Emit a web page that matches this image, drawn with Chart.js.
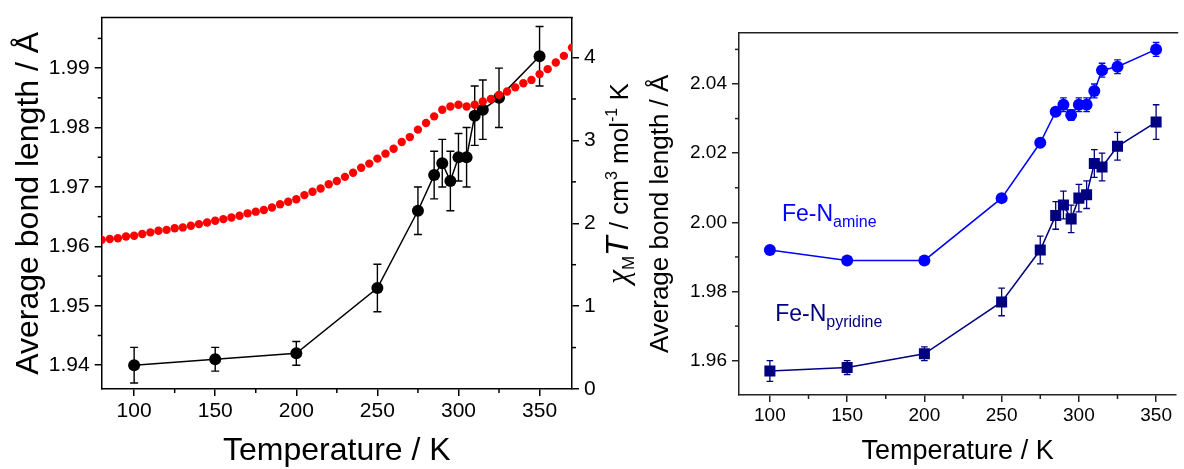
<!DOCTYPE html>
<html>
<head>
<meta charset="utf-8">
<script src="https://cdn.jsdelivr.net/npm/chart.js@4.4.1/dist/chart.umd.min.js"></script>
<style>
  html, body { margin:0; padding:0; background:#fff; overflow:hidden; }
  canvas { position:absolute; top:0; }
</style>
</head>
<body>
<canvas id="c2" width="544" height="469" style="left:640px"></canvas>
<canvas id="c1" width="650" height="469" style="left:0px"></canvas>
<script>
// ---------------- DATA ----------------
// Left panel: average bond length vs temperature (black) and chi_M T (red)
const leftTemps = [100,150,200,250,275,285,290,295,300,305,310,315,325,350];
const leftBond = [1.940,1.941,1.942,1.953,1.966,1.972,1.974,1.971,1.975,1.975,1.982,1.983,1.985,1.992];
const leftBondErr = [0.003,0.002,0.002,0.004,0.004,0.004,0.004,0.005,0.004,0.005,0.005,0.005,0.005,0.005];

const chiTemps = [80,85,90,95,100,105,110,115,120,125,130,135,140,145,150,155,160,165,170,175,
  180,185,190,195,200,205,210,215,220,225,230,235,240,245,250,255,260,265,270,275,
  280,285,290,295,300,305,310,315,320,325,330,335,340,345,350,355,360,365,370];
const chiT = [1.80,1.81,1.82,1.84,1.85,1.87,1.89,1.91,1.92,1.94,1.95,1.97,1.99,2.01,2.03,2.05,2.07,2.09,2.12,2.14,
  2.16,2.19,2.23,2.26,2.29,2.34,2.38,2.42,2.47,2.51,2.56,2.61,2.67,2.72,2.78,2.84,2.90,2.98,3.04,3.13,
  3.21,3.29,3.37,3.41,3.43,3.41,3.43,3.47,3.50,3.55,3.59,3.64,3.69,3.73,3.80,3.86,3.94,4.02,4.12];

// Right panel: Fe-N(amine) and Fe-N(pyridine)
const rightTemps = [100,150,200,250,275,285,290,295,300,305,310,315,325,350];
const amine = [1.992,1.989,1.989,2.007,2.023,2.032,2.034,2.031,2.034,2.034,2.038,2.044,2.045,2.050];
const amineErr = [0.001,0.001,0.001,0.001,0.001,0.001,0.002,0.0015,0.002,0.002,0.002,0.002,0.002,0.002];
const pyridine = [1.957,1.958,1.962,1.977,1.992,2.002,2.005,2.001,2.007,2.008,2.017,2.016,2.022,2.029];
const pyridineErr = [0.003,0.002,0.002,0.004,0.004,0.004,0.004,0.004,0.004,0.004,0.004,0.004,0.004,0.005];

// Tick values
const leftXTicks = [100,150,200,250,300,350];
const leftXMinor = [125,175,225,275,325];
const leftYTicks = [1.94,1.95,1.96,1.97,1.98,1.99];
const leftYMinor = [1.945,1.955,1.965,1.975,1.985,1.995];
const leftY2Ticks = [0,1,2,3,4];
const leftY2Minor = [0.5,1.5,2.5,3.5];
const rightXTicks = [100,150,200,250,300,350];
const rightXMinor = [125,175,225,275,325];
const rightYTicks = [1.96,1.98,2.00,2.02,2.04];
const rightYMinor = [1.97,1.99,2.01,2.03,2.05];

// Text
const xTitle = 'Temperature / K';
const yTitle = 'Average bond length / Å';
const labelAmine = ['Fe-N', 'amine'];
const labelPyridine = ['Fe-N', 'pyridine'];

// ---------------- HELPERS ----------------
const FONT = '"Liberation Sans", Arial, Helvetica, sans-serif';
const pts = (xs, ys) => xs.map((x, i) => ({x: x, y: ys[i]}));
const setTicks = arr => s => { s.ticks = arr.map(v => ({value: v})); };

function drawRich(ctx, parts, x, y, rot, align) {
  ctx.save();
  ctx.translate(x, y);
  if (rot) ctx.rotate(rot);
  ctx.textBaseline = 'alphabetic';
  ctx.textAlign = 'left';
  let total = 0;
  const ws = parts.map(p => {
    ctx.font = (p.style || '') + ' ' + p.size + 'px ' + (p.family || FONT);
    const w = ctx.measureText(p.t).width;
    total += w;
    return w;
  });
  let cx = align === 'center' ? -total / 2 : 0;
  parts.forEach((p, i) => {
    ctx.font = (p.style || '') + ' ' + p.size + 'px ' + (p.family || FONT);
    ctx.fillStyle = p.color || '#000';
    ctx.fillText(p.t, cx, p.dy || 0);
    cx += ws[i];
  });
  ctx.restore();
}

const errorBars = {
  id: 'errorBars',
  afterDatasetDraw(chart, args) {
    const ds = chart.data.datasets[args.index];
    if (!ds.errors) return;
    const xs = chart.scales[ds.xAxisID || 'x'];
    const ys = chart.scales[ds.yAxisID || 'y'];
    const ctx = chart.ctx;
    const a = chart.chartArea;
    ctx.save();
    ctx.beginPath();
    ctx.rect(a.left, a.top, a.right - a.left, a.bottom - a.top);
    ctx.clip();
    ctx.strokeStyle = ds.borderColor;
    ctx.lineWidth = ds.errWidth || 1.3;
    const c = ds.capHalf || 4;
    ds.data.forEach((p, i) => {
      const e = ds.errors[i];
      const px = xs.getPixelForValue(p.x);
      const y1 = ys.getPixelForValue(p.y - e);
      const y2 = ys.getPixelForValue(p.y + e);
      ctx.beginPath();
      ctx.moveTo(px, y1); ctx.lineTo(px, y2);
      ctx.moveTo(px - c, y1); ctx.lineTo(px + c, y1);
      ctx.moveTo(px - c, y2); ctx.lineTo(px + c, y2);
      ctx.stroke();
    });
    ctx.restore();
  }
};

const frame = {
  id: 'frame',
  afterDraw(chart, args, opts) {
    const ctx = chart.ctx;
    const a = chart.chartArea;
    ctx.save();
    ctx.strokeStyle = opts.color;
    ctx.lineWidth = opts.width;
    ctx.beginPath();
    ctx.moveTo(a.left - opts.width / 2, a.top);
    ctx.lineTo(a.right + (opts.extendRight || 0), a.top);
    ctx.stroke();
    (opts.minor || []).forEach(m => {
      const s = chart.scales[m.axis];
      m.values.forEach(v => {
        const p = s.getPixelForValue(v);
        ctx.beginPath();
        if (s.position === 'bottom') { ctx.moveTo(p, s.top); ctx.lineTo(p, s.top + opts.len); }
        else if (s.position === 'left') { ctx.moveTo(s.right, p); ctx.lineTo(s.right - opts.len, p); }
        else { ctx.moveTo(s.left, p); ctx.lineTo(s.left + opts.len, p); }
        ctx.stroke();
      });
    });
    ctx.restore();
  }
};

const chiTitle = {
  id: 'chiTitle',
  afterDraw(chart) {
    drawRich(chart.ctx, [
      {t: 'χ', size: 31, style: 'italic', family: '"Liberation Serif", "DejaVu Serif", serif'},
      {t: 'M', size: 17, dy: 6},
      {t: 'T', size: 32, style: 'italic'},
      {t: ' / cm', size: 26},
      {t: '3', size: 16, dy: -11},
      {t: ' mol', size: 26},
      {t: '-1', size: 16, dy: -11},
      {t: ' K', size: 26}
    ], 628, 183.5, -Math.PI / 2, 'center');
  }
};

const feLabels = {
  id: 'feLabels',
  afterDraw(chart) {
    const xs = chart.scales.x, ys = chart.scales.y, ctx = chart.ctx;
    drawRich(ctx, [
      {t: labelAmine[0], size: 23, color: '#0000ff'},
      {t: labelAmine[1], size: 16, dy: 6, color: '#0000ff'}
    ], xs.getPixelForValue(107.8), ys.getPixelForValue(2.0003), 0, 'left');
    drawRich(ctx, [
      {t: labelPyridine[0], size: 23, color: '#000080'},
      {t: labelPyridine[1], size: 16, dy: 6, color: '#000080'}
    ], xs.getPixelForValue(103.4), ys.getPixelForValue(1.9715), 0, 'left');
  }
};

Chart.defaults.font.family = FONT;
Chart.defaults.color = '#000';

const axisStyle = (color, w, tickFont, pad) => ({
  grid: {display: true, drawOnChartArea: false, drawTicks: true, tickLength: 7, color: color, lineWidth: w},
  border: {display: true, color: color, width: w},
  ticks: {font: {size: tickFont, lineHeight: 1.2}, color: '#000', padding: pad, autoSkip: false, maxRotation: 0, minRotation: 0}
});

// ---------------- LEFT CHART ----------------
const lx = axisStyle('#000', 1.5, 21, 3);
const ly = axisStyle('#000', 1.5, 21, 5);
const ly2 = axisStyle('#000', 1.5, 21, 5);
new Chart(document.getElementById('c1'), {
  type: 'scatter',
  data: {
    datasets: [
      {
        label: 'chiT', data: pts(chiTemps, chiT), yAxisID: 'y2', order: 0,
        showLine: false, pointRadius: 4.2, pointHoverRadius: 4.2,
        backgroundColor: '#ff0000', borderColor: '#ff0000', pointBorderWidth: 0
      },
      {
        label: 'bond', data: pts(leftTemps, leftBond), yAxisID: 'y', order: 1,
        errors: leftBondErr, capHalf: 4, errWidth: 1.4,
        showLine: true, borderColor: '#000', borderWidth: 1.5,
        pointRadius: 6, pointHoverRadius: 6, backgroundColor: '#000', pointBorderWidth: 0
      }
    ]
  },
  options: {
    responsive: false, animation: false, devicePixelRatio: 1,
    layout: {padding: {top: 14, left: 0, right: 0, bottom: 0}},
    plugins: {
      legend: {display: false}, tooltip: {enabled: false},
      frame: {color: '#000', width: 1.5, len: 4, extendRight: 0.75, minor: [
        {axis: 'x', values: leftXMinor}, {axis: 'y', values: leftYMinor}, {axis: 'y2', values: leftY2Minor}]}
    },
    scales: {
      x: Object.assign({}, lx, {
        type: 'linear', position: 'bottom', min: 80, max: 370,
        afterBuildTicks: setTicks(leftXTicks),
        afterFit: s => { s.height = 80; },
        ticks: Object.assign({}, lx.ticks, {callback: v => String(v)}),
        title: {display: true, text: xTitle, font: {size: 32, lineHeight: 1}, color: '#000', padding: {top: 0, bottom: 2}}
      }),
      y: Object.assign({}, ly, {
        type: 'linear', position: 'left', min: 1.936, max: 1.9985,
        afterBuildTicks: setTicks(leftYTicks),
        afterFit: s => { s.width = 101.7; },
        ticks: Object.assign({}, ly.ticks, {callback: v => v.toFixed(2)}),
        title: {display: true, text: yTitle, font: {size: 32, lineHeight: 1}, color: '#000', padding: {top: 13, bottom: 0}}
      }),
      y2: Object.assign({}, ly2, {
        type: 'linear', position: 'right', min: 0, max: 4.482,
        afterBuildTicks: setTicks(leftY2Ticks),
        afterFit: s => { s.width = 78; },
        ticks: Object.assign({}, ly2.ticks, {callback: v => String(v)})
      })
    }
  },
  plugins: [errorBars, frame, chiTitle]
});

// ---------------- RIGHT CHART ----------------
const RC = '#222';
const rx = axisStyle(RC, 1.5, 19, 2);
const ry = axisStyle(RC, 1.5, 19, 5);
new Chart(document.getElementById('c2'), {
  type: 'scatter',
  data: {
    datasets: [
      {
        label: 'Fe-N amine', data: pts(rightTemps, amine),
        errors: amineErr, capHalf: 3.3, errWidth: 1.3,
        showLine: true, borderColor: '#0000ff', borderWidth: 1.5,
        pointStyle: 'circle', pointRadius: 6, pointHoverRadius: 6,
        backgroundColor: '#0000ff', pointBorderWidth: 0
      },
      {
        label: 'Fe-N pyridine', data: pts(rightTemps, pyridine),
        errors: pyridineErr, capHalf: 3.3, errWidth: 1.3,
        showLine: true, borderColor: '#000080', borderWidth: 1.5,
        pointStyle: 'rect', pointRadius: 7.8, pointHoverRadius: 7.8,
        backgroundColor: '#000080', pointBorderWidth: 0
      }
    ]
  },
  options: {
    responsive: false, animation: false, devicePixelRatio: 1,
    layout: {padding: {top: 32.7, left: 0, right: 0, bottom: 0}},
    plugins: {
      legend: {display: false}, tooltip: {enabled: false},
      frame: {color: RC, width: 1.5, len: 4, extendRight: 2, minor: [
        {axis: 'x', values: rightXMinor}, {axis: 'y', values: rightYMinor}]}
    },
    scales: {
      x: Object.assign({}, rx, {
        type: 'linear', position: 'bottom', min: 80, max: 363,
        afterBuildTicks: setTicks(rightXTicks),
        afterFit: s => { s.height = 74; },
        ticks: Object.assign({}, rx.ticks, {callback: v => String(v)}),
        title: {display: true, text: xTitle, font: {size: 27, lineHeight: 1}, color: '#000', padding: {top: 0, bottom: 3.5}}
      }),
      y: Object.assign({}, ry, {
        type: 'linear', position: 'left', min: 1.95008, max: 2.05483,
        afterBuildTicks: setTicks(rightYTicks),
        afterFit: s => { s.width = 99; },
        ticks: Object.assign({}, ry.ticks, {callback: v => v.toFixed(2)}),
        title: {display: true, text: yTitle, font: {size: 26, lineHeight: 1}, color: '#000', padding: {top: 7.5, bottom: 0}}
      })
    }
  },
  plugins: [errorBars, frame, feLabels]
});
</script>
</body>
</html>
